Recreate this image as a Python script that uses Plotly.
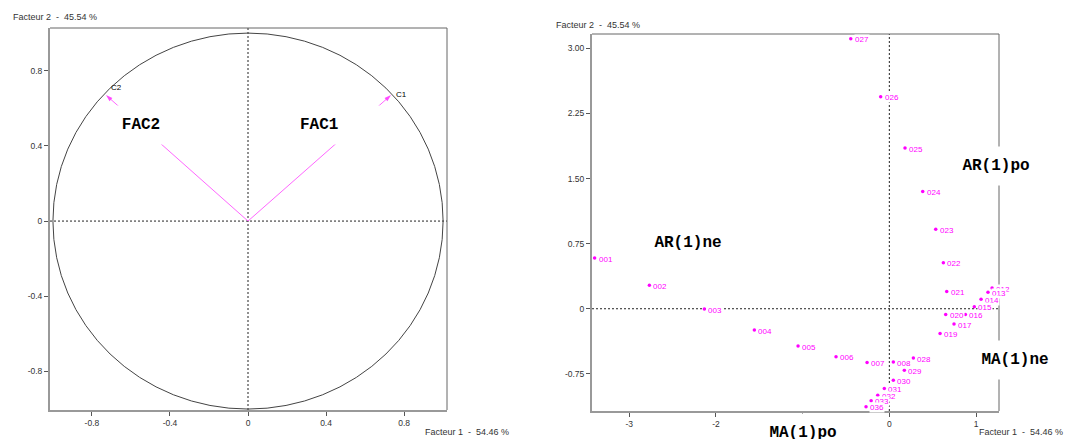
import plotly.graph_objects as go

# ---------------- data ----------------
# Left panel: correlation circle (variables)
var_names = ["C1", "C2"]
var_f1 = [0.733, -0.728]
var_f2 = [0.670, 0.670]

# Right panel: observations
obs_names = ["001", "002", "003", "004", "005", "006", "007", "008",
             "012", "013", "014", "015", "016", "017", "019", "020",
             "021", "022", "023", "024", "025", "026", "027", "028",
             "029", "030", "031", "032", "033", "036"]
obs_f1 = [-3.40, -2.768, -2.134, -1.557, -1.053, -0.615, -0.257, 0.046,
          1.185, 1.138, 1.058, 0.980, 0.877, 0.746, 0.585, 0.650,
          0.662, 0.623, 0.535, 0.385, 0.181, -0.100, -0.445, 0.277,
          0.173, 0.046, -0.058, -0.134, -0.210, -0.269]
obs_f2 = [0.584, 0.270, -0.003, -0.245, -0.430, -0.553, -0.618, -0.614,
          0.238, 0.190, 0.110, 0.023, -0.065, -0.176, -0.284, -0.065,
          0.200, 0.530, 0.915, 1.352, 1.851, 2.443, 3.110, -0.568,
          -0.710, -0.825, -0.920, -0.998, -1.060, -1.130]

left_ticks = [-0.8, -0.4, 0, 0.4, 0.8]
left_ticktext = ["-0.8", "-0.4", "0", "0.4", "0.8"]
right_xticks = [-3, -2, -1, 0, 1]
right_xticktext = ["-3", "-2", "-1", "0", "1"]
right_yticks = [3.0, 2.25, 1.5, 0.75, 0, -0.75]
right_yticktext = ["3.00", "2.25", "1.50", "0.75", "0", "-0.75"]

title_f1 = "Facteur 1\u00a0\u00a0-\u00a0\u00a054.46 %"
title_f2 = "Facteur 2\u00a0\u00a0-\u00a0\u00a045.54 %"

# ---------------- figure ----------------
W, H = 1065, 439
MAG = "#FF00FF"
fig = go.Figure()

def px(x, y):
    return x / W, (H - y) / H

# vectors in the circle
for i, name in enumerate(var_names):
    fig.add_trace(go.Scatter(
        x=[0, var_f1[i]], y=[0, var_f2[i]], mode="lines+markers",
        line=dict(color="#FF66FF", width=1),
        marker=dict(symbol=["circle", "arrow"], size=[0, 7], color=MAG,
                    angleref="previous", line=dict(width=0)),
        xaxis="x", yaxis="y", hoverinfo="skip"))

# observation points
fig.add_trace(go.Scatter(
    x=obs_f1, y=obs_f2, mode="markers",
    marker=dict(color=MAG, size=3.5),
    xaxis="x2", yaxis="y2", hoverinfo="skip", cliponaxis=False))

ann = []
# variable labels
var_yshift = [1, 8]
for i, name in enumerate(var_names):
    ann.append(dict(x=var_f1[i], y=var_f2[i], xref="x", yref="y", text=name,
                    showarrow=False, xanchor="left", yanchor="middle",
                    xshift=3, yshift=var_yshift[i],
                    font=dict(family="Liberation Sans, Arial", size=8, color="#000")))

# observation labels with white background boxes
for i, name in enumerate(obs_names):
    ann.append(dict(x=obs_f1[i], y=obs_f2[i], xref="x2", yref="y2", text=name,
                    showarrow=False, xanchor="left", yanchor="middle",
                    xshift=3, yshift=-1, bgcolor="white", borderpad=0,
                    font=dict(family="Liberation Sans, Arial", size=8, color=MAG)))

big_font = dict(family="Liberation Mono, Courier New, monospace", size=16,
                color="#000", weight="bold")
big_labels = [
    ("FAC1", 340, 125, 80, "left"),
    ("FAC2", 141, 125, 50, "center"),
    ("AR(1)po", 996, 166, 80, "center"),
    ("AR(1)ne", 688, 243, 80, "center"),
    ("MA(1)ne", 1015, 360, 80, "center"),
    ("MA(1)po", 803, 433, 80, "center"),
]
for text, cx, cy, w, al in big_labels:
    xx, yy = px(cx, cy)
    ann.append(dict(x=xx, y=yy, xref="paper", yref="paper", text=text,
                    showarrow=False, xanchor="center", yanchor="middle",
                    width=w, height=38, align=al, bgcolor="white", borderpad=0,
                    font=big_font))

title_font = dict(family="Liberation Sans, Arial", size=9, color="#333")
for text, cx, cy in [(title_f2, 11, 17), (title_f2, 554, 25),
                     (title_f1, 423, 431.5), (title_f1, 977, 431.5)]:
    xx, yy = px(cx, cy)
    ann.append(dict(x=xx, y=yy, xref="paper", yref="paper", text=text,
                    showarrow=False, xanchor="left", yanchor="middle",
                    font=title_font))

shapes = []
# unit circle
shapes.append(dict(type="circle", xref="x", yref="y", x0=-1, y0=-1, x1=1, y1=1,
                   line=dict(color="#444", width=1), layer="below"))
for xa, ya in [("x", "y"), ("x2", "y2")]:
    # dashed zero lines
    shapes.append(dict(type="line", xref=xa, yref=ya + " domain", x0=0, x1=0, y0=0, y1=1,
                       line=dict(color="#222", width=1, dash="2px,2px"), layer="below"))
    shapes.append(dict(type="line", xref=xa + " domain", yref=ya, x0=0, x1=1, y0=0, y1=0,
                       line=dict(color="#222", width=1, dash="2px,2px"), layer="below"))
    # top / right frame
    shapes.append(dict(type="line", xref=xa + " domain", yref=ya + " domain",
                       x0=0, x1=1, y0=1, y1=1, line=dict(color="#666", width=1)))
    shapes.append(dict(type="line", xref=xa + " domain", yref=ya + " domain",
                       x0=1, x1=1, y0=0, y1=1, line=dict(color="#666", width=1)))

tick_font = dict(family="Liberation Sans, Arial", size=8.5, color="#333")
axis_common = dict(showgrid=False, zeroline=False, showline=True, linecolor="#999",
                   linewidth=2, ticks="outside", ticklen=4, tickcolor="#555",
                   tickfont=tick_font, fixedrange=True)

fig.update_layout(
    width=W, height=H, margin=dict(l=0, r=0, t=0, b=0),
    paper_bgcolor="white", plot_bgcolor="white", showlegend=False,
    xaxis=dict(domain=[50 / W, 447 / W], range=[-1.015, 1.02], anchor="y",
               tickvals=left_ticks, ticktext=left_ticktext, **axis_common),
    yaxis=dict(domain=[29 / H, 411 / H], range=[-1.005, 1.027], anchor="x",
               tickvals=left_ticks, ticktext=left_ticktext, **axis_common),
    xaxis2=dict(domain=[592 / W, 999 / W], range=[-3.43, 1.265], anchor="y2",
                tickvals=right_xticks, ticktext=right_xticktext, **axis_common),
    yaxis2=dict(domain=[28 / H, 405 / H], range=[-1.178, 3.165], anchor="x2",
                tickvals=right_yticks, ticktext=right_yticktext, **axis_common),
    annotations=ann, shapes=shapes,
)

fig.write_html("out.html")
